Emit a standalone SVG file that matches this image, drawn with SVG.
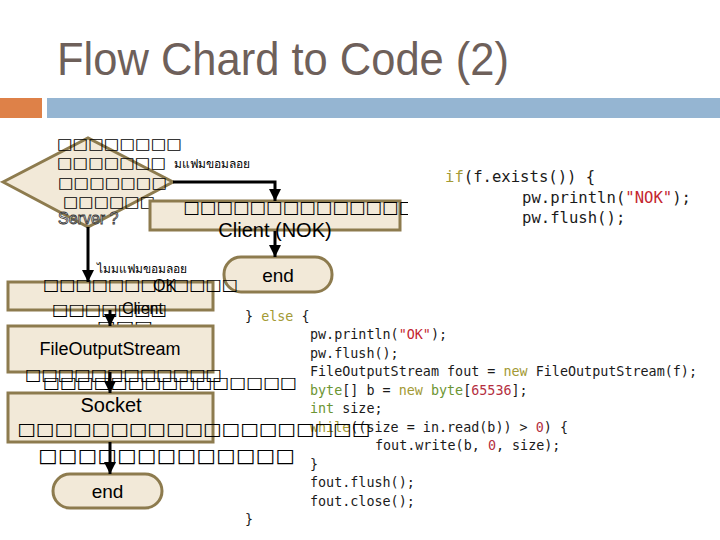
<svg xmlns="http://www.w3.org/2000/svg" width="720" height="540" viewBox="0 0 720 540">
<style>
.shape{fill:#f2e9d8;stroke:#8d7b4e;stroke-width:3}
.tofu{font-family:"DejaVu Sans",sans-serif;fill:#000}
.lbl{font-family:"Liberation Sans",Arial,sans-serif;fill:#000}
.thai{font-family:"DejaVu Sans","Noto Sans",sans-serif;font-size:12px;fill:#000}
.code{font-family:"DejaVu Sans Mono","Liberation Mono",monospace;fill:#1a1a1a}
.kw{fill:#a39a35}
.ty{fill:#6c9533}
.str{fill:#c4262f}
.num{fill:#b5303f}
.conn{fill:none;stroke:#000;stroke-width:3}
</style>
<defs>
<marker id="arr" markerWidth="12" markerHeight="12" refX="12" refY="6" orient="auto" markerUnits="userSpaceOnUse">
<path d="M0,0 L12,6 L0,12 z" fill="#000"/>
</marker>
<clipPath id="clipNok"><rect x="140" y="190" width="268" height="60"/></clipPath>
</defs>
<rect width="720" height="540" fill="#fff"/>
<text x="57" y="75" font-family="Liberation Sans,Arial,sans-serif" font-size="46" fill="#6e605a" textLength="452" lengthAdjust="spacingAndGlyphs">Flow Chard to Code (2)</text>
<rect x="0" y="98" width="42" height="20" fill="#de8148"/>
<rect x="47" y="98" width="673" height="20" fill="#95b5d2"/>

<g id="code-if" class="code" font-size="15.6">
<text x="445" y="182"><tspan class="kw">if</tspan>(f.exists()) {</text>
<text x="522" y="203">pw.println(<tspan class="str">"NOK"</tspan>);</text>
<text x="522" y="223">pw.flush();</text>
</g>
<g id="code-else" class="code" font-size="13.4">
<text x="245" y="320.5">} <tspan class="kw">else</tspan> {</text>
<text x="310" y="339">pw.println(<tspan class="str">"OK"</tspan>);</text>
<text x="310" y="357.5">pw.flush();</text>
<text x="310" y="376">FileOutputStream fout = <tspan class="kw">new</tspan> FileOutputStream(f);</text>
<text x="310" y="394.5"><tspan class="ty">byte</tspan>[] b = <tspan class="kw">new</tspan> <tspan class="ty">byte</tspan>[<tspan class="num">65536</tspan>];</text>
<text x="310" y="413"><tspan class="ty">int</tspan> size;</text>
<text x="310" y="431.5"><tspan class="kw">while</tspan>((size = in.read(b)) &gt; <tspan class="num">0</tspan>) {</text>
<text x="375" y="450">fout.write(b, <tspan class="num">0</tspan>, size);</text>
<text x="310" y="468.5">}</text>
<text x="310" y="487">fout.flush();</text>
<text x="310" y="505.5">fout.close();</text>
<text x="245" y="524">}</text>
</g>

<g id="decision">
<polygon class="shape" points="3,182 88,138 173,182 88,227"/>
<text class="tofu" x="57" y="149" font-size="15" textLength="125" lengthAdjust="spacingAndGlyphs">□□□□□□□□</text>
<text class="tofu" x="57" y="168" font-size="15" textLength="109" lengthAdjust="spacingAndGlyphs">□□□□□□□</text>
<text class="thai" x="174" y="168">มแฟมขอมลอย</text>
<text class="tofu" x="58" y="188" font-size="15" textLength="109" lengthAdjust="spacingAndGlyphs">□□□□□□□</text>
<text class="tofu" x="63" y="207" font-size="15" textLength="92" lengthAdjust="spacingAndGlyphs">□□□□□□</text>
<text x="58" y="224" font-family="Liberation Sans,Arial,sans-serif" font-size="16" fill="#fff" stroke="#333" stroke-width="0.8">Server ?</text>
</g>

<g id="send-nok">
<rect class="shape" x="150" y="201" width="250" height="29"/>
<text class="tofu" x="183" y="213" font-size="17" textLength="232" lengthAdjust="spacingAndGlyphs" clip-path="url(#clipNok)">□□□□□□□□□□□□□□</text>
<text class="lbl" x="275" y="237" font-size="20" text-anchor="middle">Client (NOK)</text>
</g>

<g id="end-top">
<rect class="shape" x="224" y="257" width="108" height="35" rx="17"/>
<text class="lbl" x="278" y="282" font-size="19" text-anchor="middle">end</text>
</g>

<g id="send-ok">
<rect class="shape" x="8" y="282" width="205" height="28"/>
<text class="thai" x="97" y="273">ไมมแฟมขอมลอย</text>
<text class="tofu" x="43" y="290" font-size="16" textLength="195" lengthAdjust="spacingAndGlyphs">□□□□□□□□□□□□</text>
<text class="lbl" x="153" y="291" font-size="16">OK</text>
<text class="tofu" x="52" y="315" font-size="16" textLength="115" lengthAdjust="spacingAndGlyphs">□□□□□□□</text>
<text class="lbl" x="122" y="314" font-size="16">Client</text>
<text class="tofu" x="97" y="332" font-size="16" textLength="56" lengthAdjust="spacingAndGlyphs">□□□</text>
</g>

<g id="create-file">
<rect class="shape" x="8" y="326" width="205" height="46"/>
<text class="lbl" x="110" y="355" font-size="18" text-anchor="middle">FileOutputStream</text>
<text class="tofu" x="25" y="380" font-size="16" textLength="197" lengthAdjust="spacingAndGlyphs">□□□□□□□□□□□□</text>
<text class="tofu" x="43" y="388" font-size="16" textLength="254" lengthAdjust="spacingAndGlyphs">□□□□□□□□□□□□□□□</text>
</g>

<g id="read-socket">
<rect class="shape" x="8" y="393" width="205" height="49"/>
<text class="lbl" x="111" y="412" font-size="20" text-anchor="middle">Socket</text>
<text class="tofu" x="17" y="435" font-size="17" textLength="353" lengthAdjust="spacingAndGlyphs">□□□□□□□□□□□□□□□□□□□</text>
<text class="tofu" x="38" y="462" font-size="19" textLength="257" lengthAdjust="spacingAndGlyphs">□□□□□□□□□□□□□</text>
</g>

<g id="end-bottom">
<rect class="shape" x="53" y="474" width="109" height="34" rx="17"/>
<text class="lbl" x="107.5" y="498" font-size="19" text-anchor="middle">end</text>
</g>

<g id="connectors">
<path class="conn" d="M173,182 H275 V201" marker-end="url(#arr)"/>
<path class="conn" d="M275,231 V257" marker-end="url(#arr)"/>
<path class="conn" d="M88,227 V282" marker-end="url(#arr)"/>
<path class="conn" d="M110,310 V326" marker-end="url(#arr)"/>
<path class="conn" d="M110,372 V393" marker-end="url(#arr)"/>
<path class="conn" d="M110,442 V474" marker-end="url(#arr)"/>
</g>
</svg>
